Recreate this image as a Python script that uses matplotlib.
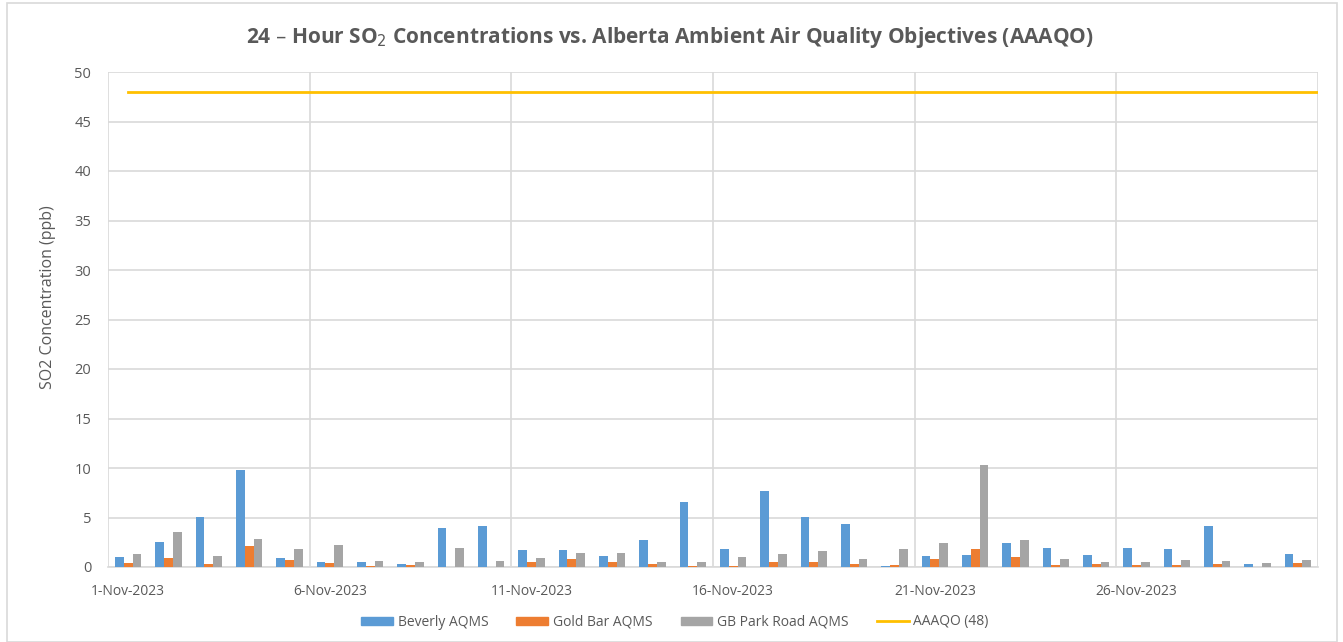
import matplotlib
matplotlib.use("Agg")
import matplotlib.pyplot as plt
from matplotlib.patches import Rectangle, Patch
from matplotlib.lines import Line2D
import numpy as np

days = [f"{d}-Nov-2023" for d in range(1, 31)]
beverly = [1.0, 2.5, 5.1, 9.8, 0.9, 0.5, 0.5, 0.3, 3.9, 4.1,
           1.7, 1.7, 1.1, 2.7, 6.6, 1.8, 7.7, 5.1, 4.3, 0.1,
           1.1, 1.25, 2.4, 1.9, 1.25, 1.9, 1.8, 4.1, 0.3, 1.3]
gold_bar = [0.4, 0.9, 0.3, 2.1, 0.75, 0.4, 0.1, 0.2, 0.0, 0.0,
            0.55, 0.8, 0.5, 0.3, 0.1, 0.1, 0.5, 0.55, 0.3, 0.2,
            0.8, 1.8, 1.0, 0.2, 0.3, 0.2, 0.2, 0.3, 0.0, 0.4]
gb_park = [1.3, 3.5, 1.1, 2.8, 1.8, 2.2, 0.6, 0.5, 1.9, 0.65,
           0.9, 1.4, 1.4, 0.55, 0.55, 1.0, 1.3, 1.6, 0.8, 1.8,
           2.4, 10.35, 2.7, 0.8, 0.5, 0.55, 0.75, 0.65, 0.4, 0.75]
aaaqo = 48
series_names = ["Beverly AQMS", "Gold Bar AQMS", "GB Park Road AQMS", "AAAQO (48)"]

colors = ["#5B9BD5", "#ED7D31", "#A5A5A5", "#FFC000"]
txt = "#595959"
grid = "#D9D9D9"
plt.rcParams['font.family'] = ['Open Sans', 'DejaVu Sans']

fig = plt.figure(figsize=(13.43, 6.42), dpi=100)
fig.patches.append(Rectangle((7/1343, 0), 1330/1343, 639/642, transform=fig.transFigure,
                             fill=False, edgecolor=grid, linewidth=1.2))
ax = fig.add_axes([108/1343, (642-567)/642, 1210/1343, 495/642])

n = len(days)
x = np.arange(n) + 0.5
w = 0.215
for k, (vals, c) in enumerate(zip([beverly, gold_bar, gb_park], colors[:3])):
    ax.bar(x + (k - 1) * w, vals, width=w, color=c, zorder=3)
ax.plot([0.5, n], [aaaqo, aaaqo], color=colors[3], linewidth=2, zorder=4)

ax.set_xlim(0, n)
ax.set_ylim(0, 50)
ax.set_yticks(np.arange(0, 51, 5))
ax.set_xticks(x[::5])
ax.set_xticklabels(days[::5])
ax.set_xticks(np.arange(0, n + 1, 5), minor=True)
ax.grid(axis='y', which='major', color=grid, linewidth=1.2, zorder=0)
ax.grid(axis='x', which='minor', color=grid, linewidth=1.2, zorder=0)
ax.grid(axis='x', which='major', visible=False)
ax.tick_params(axis='both', which='both', length=0, colors=txt, labelsize=10)
ax.tick_params(axis='y', pad=12, labelsize=10.5)
ax.tick_params(axis='x', pad=12)
for s in ax.spines.values():
    s.set_visible(False)
ax.spines['bottom'].set_visible(True)
ax.spines['bottom'].set_color(grid)
ax.spines['bottom'].set_linewidth(1.2)
ax.set_ylabel("SO2 Concentration (ppb)", color=txt, fontsize=11.5)
ax.yaxis.set_label_coords((56 - 108) / 1210, (567 - 297) / 495)

fig.text(670/1343, 1 - 37/642, "24 \u2013 Hour SO$_2$ Concentrations vs. Alberta Ambient Air Quality Objectives (AAAQO)",
         ha='center', va='center', fontsize=15, fontweight='bold', color=txt)

handles = [Patch(color=colors[0]), Patch(color=colors[1]), Patch(color=colors[2]),
           Line2D([0], [0], color=colors[3], linewidth=2)]
fig.legend(handles, series_names, loc='center', bbox_to_anchor=(675/1343, 1 - 622/642),
           ncol=4, frameon=False, fontsize=10, labelcolor=txt, handlelength=2.3,
           handleheight=0.5, columnspacing=2.0, handletextpad=0.35)

fig.savefig("out.png", dpi=100)
